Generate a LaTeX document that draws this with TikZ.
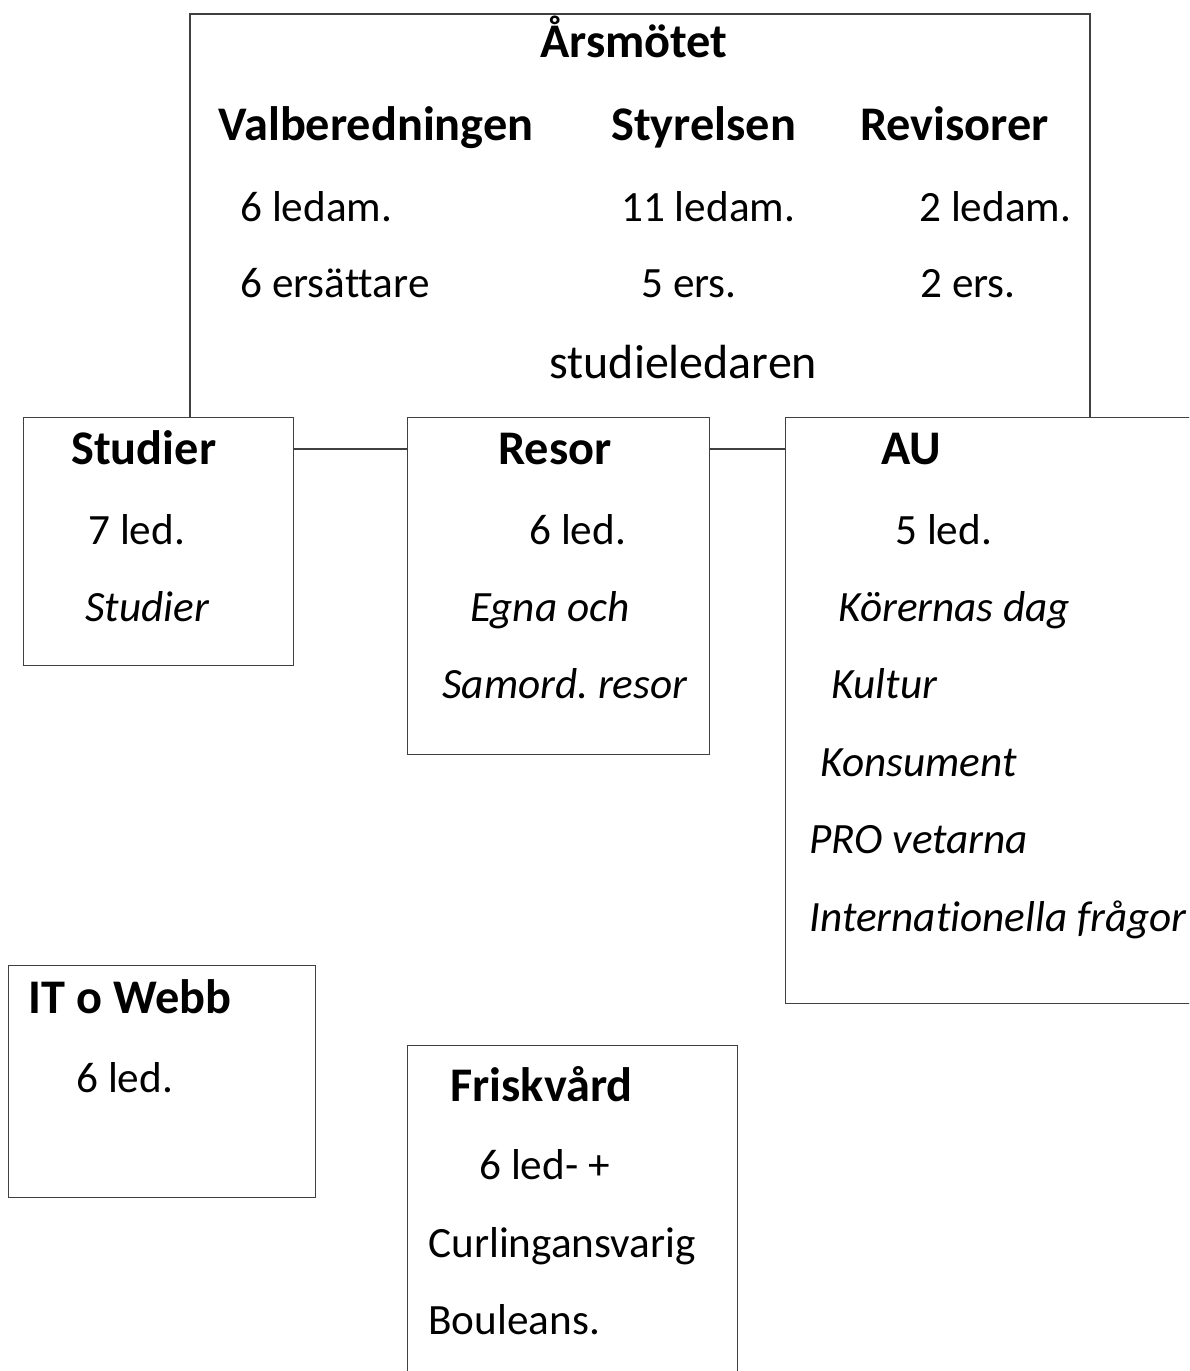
\documentclass[tikz,border=0pt]{standalone}
\usepackage{fontspec}
\setmainfont{Carlito}[Ligatures=NoCommon]
\frenchspacing

\tikzset{
	box/.style={draw=black!75, line width=0.7pt, rectangle, anchor=north west, inner sep=0pt},
	head/.style={anchor=base west, inner sep=0pt, font=\fontsize{27.5}{30}\selectfont\bfseries},
	txt/.style={anchor=base west, inner sep=0pt, font=\fontsize{24.6}{28}\selectfont},
	itxt/.style={anchor=base west, inner sep=0pt, font=\fontsize{24.6}{28}\selectfont\itshape},
	link/.style={draw=black!75, line width=0.7pt}
}

\begin{document}
\begin{tikzpicture}[x=0.02cm, y=-0.02cm]
			\useasboundingbox (0, 0) rectangle (1189, 1371);
			\clip (0, 0) rectangle (1189, 1371);

			% boxes
			\draw (190, 14) 	node[box, draw=none, minimum width=17.98cm, minimum height=8.06cm] 	(arsbox) 	{};
			\draw (23, 417) 	node[box, minimum width=5.4cm, minimum height=4.96cm] 	(studier) 	{};
			\draw (407, 417) 	node[box, minimum width=6.04cm, minimum height=6.74cm] 	(resor) 	{};
			\draw (785, 417) 	node[box, minimum width=8.4cm, minimum height=11.72cm] 	(au) 		{};
			\draw (8, 965) 		node[box, minimum width=6.14cm, minimum height=4.64cm] 	(itwebb) 	{};
			\draw (407, 1045) 	node[box, minimum width=6.6cm, minimum height=7.2cm] 	(frisk) 	{};

			\draw[link] (arsbox.south west) -- (arsbox.north west) -- (arsbox.north east) -- (arsbox.south east);
			\draw[link] ([yshift=-0.64cm]studier.north east) -- ([yshift=-0.64cm]resor.north west);
			\draw[link] ([yshift=-0.64cm]resor.north east) -- ([yshift=-0.64cm]au.north west);

			% Årsmötet
			\node[head] (ars) 		at (540, 58) 	{Årsmötet};
			\node[head] (valb) 		at (218, 141) 	{Valberedningen};
			\node[head] (styr) 		at (611, 141) 	{Styrelsen};
			\node[head] (rev) 		at (860, 141) 	{Revisorer};
			\node[txt] (valbled) 	at (240, 222) 	{6 ledam.};
			\node[txt] (styrled) 	at (621, 222) 	{11 ledam.};
			\node[txt] (revled) 	at (919, 222) 	{2 ledam.};
			\node[txt] (valbers) 	at (240, 298) 	{6 ersättare};
			\node[txt] (styrers) 	at (641, 298) 	{5 ers.};
			\node[txt] (revers) 	at (920, 298) 	{2 ers.};
			\node[txt, font=\fontsize{27.3}{30}\selectfont] (stled) at (549, 378) {studieledaren};

			% Studier
			\node[head] (studierh) 	at (71, 464) 	{Studier};
			\node[txt] (studierl) 	at (88, 544) 	{7 led.};
			\node[itxt] (studieri) 	at (85, 621) 	{Studier};

			% Resor
			\node[head] (resorh) 	at (498, 464) 	{Resor};
			\node[txt] (resorl) 	at (529, 544) 	{6 led.};
			\node[itxt] (egna) 		at (470, 621) 	{Egna och};
			\node[itxt] (samord) 	at (442, 698) 	{Samord. resor};

			% AU
			\node[head] (auh) 		at (881, 464) 	{AU};
			\node[txt] (aul) 		at (895, 544) 	{5 led.};
			\node[itxt] (korer) 	at (838, 621) 	{Körernas dag};
			\node[itxt] (kultur) 	at (831, 698) 	{Kultur};
			\node[itxt] (konsum) 	at (820, 776) 	{Konsument};
			\node[itxt] (pro) 		at (809, 853) 	{PRO vetarna};
			\node[itxt] (intern) 	at (809, 931) 	{Internationella frågor};

			% IT o Webb
			\node[head] (ith) 		at (28, 1013) 	{IT o Webb};
			\node[txt] (itl) 		at (76, 1092) 	{6 led.};

			% Friskvård
			\node[head] (friskh) 	at (450, 1101) 	{Friskvård};
			\node[txt] (friskl) 	at (479, 1179) 	{6 led- +};
			\node[txt] (curling) 	at (428, 1257) 	{Curlingansvarig};
			\node[txt] (boule) 		at (428, 1334) 	{Bouleans.};
		\end{tikzpicture}
\end{document}
